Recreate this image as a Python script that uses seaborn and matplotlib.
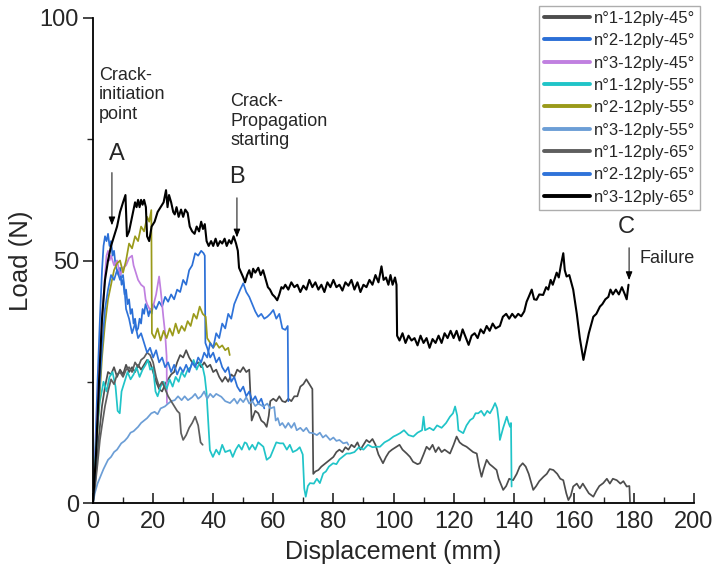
import matplotlib
matplotlib.use("Agg")
import matplotlib.pyplot as plt
import seaborn as sns
from matplotlib.ticker import MultipleLocator

# Data (displacement in mm, load in N)
labels = ["n°1-12ply-45°", "n°2-12ply-45°", "n°3-12ply-45°",
          "n°1-12ply-55°", "n°2-12ply-55°", "n°3-12ply-55°",
          "n°1-12ply-65°", "n°2-12ply-65°", "n°3-12ply-65°"]
colors = ["#4d4d4d", "#2b6fd6", "#c080e0", "#20c4c8", "#9a9a1a",
          "#6c9ed6", "#5e5e5e", "#2f73d9", "#000000"]

n1_45_x = [0, 1, 2, 3, 4, 5, 6, 7, 8, 9, 10, 11, 12, 13, 14, 15, 16, 17, 18, 19, 20, 21, 22, 23, 24, 25, 26, 27, 28, 29,
           30, 31, 32, 33, 34, 35, 36, 37, 38, 39, 40, 41, 42, 43, 44, 45, 46, 47, 48, 49, 50, 51, 52, 52.8, 54, 55, 56,
           57, 57.8, 58.5, 59, 60, 61, 62, 63, 64, 65, 66, 67, 68, 69, 70, 71, 72, 73, 73.3, 74, 75, 76, 77, 78, 79, 80,
           81, 82, 83, 84, 85, 86, 87, 88, 89, 90, 91, 92, 93, 94, 95, 96.5, 97.5, 98.5, 99.5, 101, 102, 103, 104.4,
           105.5, 106.5, 108, 108.8, 110, 111, 112, 113, 114, 115, 116, 117, 118.8, 120, 121, 122, 123, 124.3, 125.5,
           126.5, 127.7, 128.5, 129.3, 130, 131, 132, 133, 134.3, 135, 136.5, 137.5, 138.5, 139.8, 141, 142, 143, 144,
           145, 146.5, 147.5, 148.5, 149.9, 151, 152, 153.2, 154.5, 155.5, 156.5, 157.5, 158.2, 159, 159.8, 161, 162,
           163, 164.3, 165, 166.5, 167.5, 168.5, 169.8, 171, 172, 173, 174.3, 175.5, 176.5, 177.6, 178.5, 178.7]
n1_45_y = [0, 6, 14, 20, 24, 27, 26.5, 28, 26, 27.5, 26.5, 28.5, 27, 28, 27, 28.5, 27.5, 28.5, 29.5, 29, 27, 25, 23.5,
           23, 24.5, 25.5, 26.5, 27, 29, 30.5, 30, 31.5, 30, 29, 28.5, 29, 28, 29, 28, 28.5, 27, 27.5, 26, 25, 26, 25,
           26.5, 26, 27.5, 27, 28, 27, 27.5, 17, 19, 18.5, 17, 16.5, 15.7, 18, 21, 21.5, 21, 22, 21, 20.8, 21.5, 21,
           22, 22, 24, 24.5, 25.5, 24.5, 23.5, 6, 6.5, 6.8, 7.5, 8, 8.5, 9, 9.5, 10.5, 11, 10.5, 11.5, 11, 12, 11.5,
           12.5, 11, 12, 13, 12.5, 13.2, 12, 10, 8.2, 9.5, 10.5, 11, 11.6, 12, 11, 10.2, 9.5, 8.5, 8, 8.2, 10, 11.6,
           11, 12, 10.5, 11.5, 10.5, 11, 10.2, 12, 13.7, 12.5, 12, 11.6, 11, 10.5, 10.2, 7.5, 5.4, 7, 8.9, 8, 7.5,
           6.8, 5, 2.7, 3.5, 5, 4.7, 6, 7.5, 8.2, 7.5, 6, 2.7, 3.5, 4.5, 5.4, 6, 7, 6.8, 6, 5, 4.7, 2, 0.6, 1.5, 3.4,
           4, 3, 4, 2.7, 2, 1.3, 2.5, 3.5, 4.1, 5, 4, 5, 4.7, 4, 4.5, 3.4, 3.5, 0.3]

n2_45_x = [0, 0.8, 1.5, 2.3, 3, 3.5, 4, 4.5, 5, 5.5, 6, 6.5, 7, 7.5, 8, 8.5, 9, 9.5, 10, 10.5, 11, 11.5, 12, 12.5, 13,
           13.5, 14, 14.5, 15, 15.5, 16, 16.5, 17, 17.5, 18, 18.5, 19, 19.5, 20, 21, 22, 23, 24, 25, 26, 27, 28, 29,
           30, 31, 32, 33, 34, 35, 36, 36.8, 37.2, 37.4, 38, 39, 40, 41, 42, 43, 44, 45, 46, 47, 48, 49, 50, 51, 52,
           53, 54, 55, 56, 57]
n2_45_y = [0, 12, 25, 38, 48, 53, 55, 54, 55.5, 53, 54, 51, 52, 49, 48, 47, 48.5, 45, 46, 43, 44, 41, 42, 39, 40, 37,
           38, 35.5, 36, 38, 37, 40, 39, 41, 40, 38.5, 40, 39, 41, 40, 41.5, 40.5, 42.5, 41.5, 43, 42, 44, 43.5, 46,
           45, 48, 49, 51.5, 51, 52, 51.5, 51, 33, 32, 30, 31, 29, 30, 28, 27, 28, 25, 26, 24, 23, 24, 22, 23, 21, 22,
           20.5, 21.5, 19.5]

n3_45_x = [0, 1, 2, 3, 4, 4.5, 5, 5.5, 6, 7, 8, 9, 10, 11, 12, 13, 13.5, 14, 14.5, 15, 16, 17, 17.5, 18, 19, 20, 21,
           22, 22.5, 23, 23.4, 24, 24.5, 24.6]
n3_45_y = [0, 12, 26, 38, 47, 51, 52, 50, 51, 49, 50, 47, 48.5, 49, 50.5, 51, 49, 48, 47, 46, 45, 44.5, 42, 41, 39.8,
           40.5, 43, 46.7, 44, 41, 38.4, 35, 30.2, 20.6]

n1_55_x = [0, 0.7, 1.5, 2.3, 2.8, 3.5, 4.5, 5.5, 6.5, 7.5, 8.2, 8.9, 9.5, 10.5, 11.5, 12.5, 13.5, 14.5, 15.5, 16.5,
           17.5, 18.3, 19, 20, 20.8, 21.5, 22.5, 23.5, 24.5, 25.5, 26.5, 27.5, 28.5, 29.5, 30.5, 31.5, 32.5, 33.5,
           34.5, 35.5, 36.5, 37.2, 37.8, 38.4, 38.9, 39.9, 41, 42, 43, 44, 45.6, 46.5, 47.5, 48.5, 49.5, 50.5, 51.1,
           52, 53, 54, 55, 56.7, 57.8, 59, 60, 61, 62.2, 63.3, 64.5, 65.5, 66.5, 67.8, 68.8, 69.8, 70.3, 70.8, 71.5,
           72.2, 73.5, 74.5, 75.5, 76.6, 77.5, 78.5, 79.9, 81, 82, 83, 84.4, 85.5, 87, 88.5, 90, 91.5, 93, 94.4,
           95.5, 97, 98.5, 100, 101, 102.2, 103.5, 105, 106.6, 108, 109.5, 110, 110.5, 112, 113.3, 114.5, 116, 117.5,
           118.8, 119.8, 120.5, 121.2, 121.6, 123.2, 124.3, 125.5, 126.5, 127.3, 128.2, 129.2, 130.2, 131.2, 132.1,
           133, 133.8, 134.5, 135, 135.4, 136.5, 137.7, 138.3, 138.8, 139.1, 139.3]
n1_55_y = [0, 8, 16, 21, 22.6, 25, 23, 26, 27, 24, 19, 18.5, 23, 25, 27, 25.5, 26.5, 28, 26, 27.5, 28.5, 29.5, 27.5,
           28, 23, 22, 24, 25, 23.5, 25.5, 24, 26, 25, 27, 26, 27.5, 28, 29.5, 27.5, 29, 28, 26, 22.6, 16, 10.9, 9.5,
           11, 10, 12, 10.5, 10.9, 9.5, 11, 12, 11, 12.5, 12.3, 11, 12, 11, 12.5, 11.6, 8.9, 9.5, 11, 12.5, 12.3,
           12.3, 11, 12, 10.5, 10.9, 11.5, 10, 3, 1.3, 3.5, 4.1, 4, 5, 4.1, 6.1, 6.5, 7.5, 8.2, 8, 9, 9.5, 10.2, 10.2,
           10.5, 11.5, 11, 12, 11.5, 11.6, 11.6, 12.5, 13, 13.7, 14, 14.4, 15, 14, 13.7, 14.5, 15, 17.8, 15, 15.5,
           15, 16, 15.5, 16.5, 17.8, 18.5, 19.9, 18, 15, 14.4, 16, 17.1, 17.5, 18.5, 18.5, 19, 18, 19, 18.5, 19.5,
           20.6, 19.5, 17, 13, 15.5, 17.8, 16.5, 15.7, 16.5, 3.4]

n2_55_x = [0, 1, 2, 3, 4, 5, 6, 7, 8, 9, 10, 11, 12, 13, 14, 15, 16, 17, 18, 18.7, 19.4, 19.6, 20.5, 21.5, 22.5, 23.5,
           24.5, 25.5, 26.5, 27.5, 28.5, 29.5, 30.5, 31.5, 32.5, 33.5, 34.5, 35.5, 36.5, 37.5, 38, 39, 40, 41, 42, 43,
           44, 45, 45.5]
n2_55_y = [0, 10, 20, 30, 37, 42, 45, 48, 49.4, 50, 47.5, 50, 53.5, 52.5, 55, 54, 57, 56, 59, 58, 60.4, 35, 34, 36,
           33.5, 35.5, 34, 36, 34.5, 37, 35, 36.5, 35.5, 37.5, 36.5, 39, 38, 40.5, 39, 38.4, 34, 33, 32, 33, 32, 32.5,
           31.5, 32, 30.5]

n3_55_x = [0, 0.6, 1.5, 2.5, 3.5, 5, 6, 7, 8, 9.4, 10.5, 11.5, 12.5, 13.5, 15, 16, 17, 18, 19.4, 20.5, 21.5, 22.5,
           23.9, 25, 26, 27.2, 28.3, 29.5, 30.5, 31.6, 33, 34, 35, 36, 37, 38, 39, 40, 41, 42.7, 44, 45.6, 47, 48, 49,
           50, 51, 52, 53, 54, 55, 56.7, 58, 59, 60.3, 60.8, 61.5, 62.2, 63, 64, 65, 66, 67, 67.8, 69, 70, 71, 72,
           73.3, 74.5, 75.5, 76.5, 77.5, 78.9, 80, 81, 82, 83.3, 84.5, 85]
n3_55_y = [0, 2, 4, 5.5, 7, 8.9, 9.5, 10.5, 11, 12.3, 12.8, 13.5, 14.5, 14.8, 15.7, 16.5, 17, 17.5, 18.5, 18.8, 18.3,
           19.5, 19.9, 20.5, 21, 21.2, 22, 21.2, 22, 21.2, 21.8, 22.5, 21.5, 22, 23, 21.5, 22.5, 21.8, 22.5, 21.9, 21,
           20.6, 21.5, 20.5, 21.5, 20.8, 21.8, 20.5, 21, 20, 20.5, 19.9, 20.5, 19.5, 19.8, 17, 17.5, 16, 16.5, 15.5,
           16.5, 15.5, 16.5, 15, 15.5, 14.8, 15.5, 14.5, 14.4, 14, 14.5, 13.5, 14, 13, 13.5, 12.8, 13, 12.3, 12.5, 12]

n1_65_x = [0, 0.8, 1.5, 2.3, 3, 4, 5, 6, 7, 8, 9, 10, 11, 12, 13, 14, 15, 16, 17, 18, 19, 20, 21, 22, 23, 24, 25, 26,
           27, 28, 28.8, 29.3, 30, 31, 32, 33, 34, 35, 35.8, 36.5]
n1_65_y = [0, 4, 8, 13, 16, 20, 23, 25.5, 24.5, 26.5, 27, 26, 27.5, 28, 27, 29, 28, 29.5, 30, 31, 30.5, 29, 26, 24, 25,
           23.5, 22, 21, 20, 19, 18.5, 14.4, 13, 14, 15.5, 16.5, 17.8, 16, 12.5, 12]

n2_65_x = [0, 1, 2, 3, 4, 5, 6, 7, 8, 9, 10, 10.5, 11, 12, 13, 14, 15, 16, 17, 18, 19, 20, 21, 22, 23, 24, 25, 26, 27,
           28, 29, 30, 31, 32, 33, 34, 35, 36, 37, 38, 39, 40, 41, 42, 43, 44, 45, 46, 47, 48, 49, 50, 51, 52, 53, 54,
           55, 56, 57, 58, 59, 60, 61, 62, 63, 64, 64.8, 65]
n2_65_y = [0, 10, 22, 32, 40, 44, 47, 46, 48, 46, 47, 44, 40, 38, 35, 37, 34, 35, 33, 31, 32, 30, 31.5, 29, 30, 28, 29,
           27, 28.5, 26.5, 28, 27, 28.5, 27, 29, 28, 30, 29, 31, 30, 33, 32, 35, 34, 37, 36, 39, 38, 41, 42.5, 44,
           45.3, 43.5, 42.5, 41, 39.5, 38.4, 39, 38, 38.4, 39, 39.8, 38, 39, 36, 35.7, 36.5, 21]

n3_65_x = [0, 1, 2, 3, 4, 5, 6, 7, 8, 9, 10, 10.8, 11.3, 12, 13, 14, 14.5, 15, 15.5, 16, 16.5, 17, 17.6, 18, 18.7,
           19.5, 20.5, 21.5, 22.5, 23.5, 24.3, 24.8, 25.3, 26, 26.7, 27.2, 27.8, 28.5, 29.3, 30, 30.7, 31.5, 32.2, 33,
           33.8, 34.5, 35.3, 36, 36.6, 37.2, 37.8, 38.5, 39.3, 40, 40.8, 41.5, 42.3, 43, 43.8, 44.5, 45.3, 46, 46.8,
           47.6, 48.2, 48.6, 49.3, 50, 50.6, 51.3, 52, 52.7, 53.3, 54, 55, 55.8, 56.6, 57.5, 58.2, 58.9, 59.7, 60.5,
           61.3, 62, 62.7, 63.3, 64, 65, 66, 67, 68, 69, 70, 71, 72, 73, 74, 75, 76, 77, 78, 79, 80, 81, 82, 83, 84,
           85, 86, 87, 88, 89, 90, 91, 92, 93, 94, 95, 96, 96.7, 97.5, 98.3, 99, 99.7, 100.5, 101, 101.2, 102, 103,
           104, 105, 106, 107, 108, 109, 110, 111, 112, 113, 114, 115, 116, 117, 118, 119, 120, 121, 122, 123, 124,
           125, 126, 127, 128, 129, 130, 131, 132, 133, 134, 135.4, 136.4, 137.5, 138.5, 139.5, 140.5, 141.5, 142.5,
           143.5, 144.3, 145, 146, 146.8, 147.6, 148.5, 149.8, 150.8, 151.5, 152.3, 153, 154.3, 155, 155.7, 156.5,
           157, 157.6, 158.5, 159.8, 161, 162, 163.2, 164, 165, 166.5, 167.5, 168.7, 169.5, 170.5, 171.5, 172.2, 173,
           174, 175, 176, 177, 177.6, 178.2]
n3_65_y = [0, 10, 25, 38, 46, 50, 53, 55, 57, 60, 62, 63.5, 55, 56, 59, 62, 61, 62.5, 61, 62.5, 61.5, 62.5, 61, 55, 54,
           57, 58, 60, 61, 62, 64.5, 61, 63.5, 62, 60, 59.5, 61, 59, 60.5, 59, 60.5, 59.8, 57, 56, 55.5, 57, 56, 58,
           56.5, 57.5, 54, 53, 54, 53, 54.5, 53, 54, 53.5, 54.5, 53, 54.2, 53.5, 55, 53.5, 52, 48.5, 47.5, 46.5, 45.5,
           47, 48, 46.5, 48.3, 47.5, 48.5, 47, 48, 46, 44.5, 44, 43, 42.5, 41.8, 43, 44.5, 44.2, 45, 44, 45.5, 44.5,
           45, 43.5, 44.8, 44, 46, 44.5, 45.5, 44, 45, 43.5, 45.5, 44.5, 46, 44.5, 45, 43.8, 45.5, 44.8, 46, 44, 45.5,
           43.5, 45, 44.5, 46, 45, 47, 45.5, 48.8, 46, 46.5, 45, 47, 45, 46.5, 45, 34.5, 33.5, 35, 33, 34.5, 33.5, 34,
           32.5, 34.5, 33, 34, 32, 33.8, 33, 34.5, 33, 35, 34, 35.5, 34, 35.5, 33.5, 35.8, 34.2, 32.6, 34.5, 35, 34,
           35.8, 35, 36.5, 35.5, 37, 36, 36.5, 38.4, 39, 38, 39, 38.2, 39, 38.5, 39.5, 41.5, 42.5, 44, 42, 41.9, 43,
           42.9, 44.5, 44, 46, 45, 47.5, 46.5, 49, 51.5, 48, 46.7, 47, 44, 39, 34, 29.5, 32, 35, 38.4, 39, 40.5, 41,
           42, 42.5, 44, 43, 44, 43, 44.5, 43, 42, 45]

series_x = [n1_45_x, n2_45_x, n3_45_x, n1_55_x, n2_55_x, n3_55_x, n1_65_x, n2_65_x, n3_65_x]
series_y = [n1_45_y, n2_45_y, n3_45_y, n1_55_y, n2_55_y, n3_55_y, n1_65_y, n2_65_y, n3_65_y]

sns.set_style("white")
plt.rcParams["font.family"] = ["Liberation Sans", "DejaVu Sans"]

fig = plt.figure(figsize=(7.13, 5.81), dpi=100)
ax = fig.add_axes([93 / 713, 1 - 503 / 581, (694 - 93) / 713, (503 - 18) / 581])

for xs, ys, lab, col in zip(series_x, series_y, labels, colors):
    sns.lineplot(x=xs, y=ys, sort=False, estimator=None, color=col, label=lab,
                 linewidth=1.5 if col == "#000000" else 1.25, ax=ax)

ax.set_xlim(0, 200)
ax.set_ylim(0, 100)
sns.despine(ax=ax)
for s in ["left", "bottom"]:
    ax.spines[s].set_linewidth(1.3)
    ax.spines[s].set_color("black")

ax.xaxis.set_major_locator(MultipleLocator(20))
ax.xaxis.set_minor_locator(MultipleLocator(10))
ax.yaxis.set_major_locator(MultipleLocator(50))
ax.yaxis.set_minor_locator(MultipleLocator(25))
ax.tick_params(axis="x", which="major", direction="in", length=7, width=1.2, labelsize=17, pad=6, bottom=True)
ax.tick_params(axis="x", which="minor", direction="in", length=4, width=1.0, bottom=True)
ax.tick_params(axis="y", which="major", direction="out", length=7, width=1.2, labelsize=17, pad=3, left=True)
ax.tick_params(axis="y", which="minor", direction="out", length=4, width=1.0, left=True)

ax.set_xlabel("Displacement (mm)", fontsize=18, labelpad=5)
ax.set_ylabel("Load (N)", fontsize=18.5)
ax.yaxis.set_label_coords(-0.1, 0.5)

# annotations
ax.text(2, 90, "Crack-\ninitiation\npoint", fontsize=13, va="top", ha="left", linespacing=1.2)
ax.text(8, 72, "A", fontsize=17, ha="center", va="center")
ax.annotate("", xy=(6.3, 56.7), xytext=(6.3, 68.7),
            arrowprops=dict(arrowstyle="-|>,head_length=0.5,head_width=0.2", color="black", lw=0.7))
ax.text(45.6, 84.5, "Crack-\nPropagation\nstarting", fontsize=13, va="top", ha="left", linespacing=1.2)
ax.text(47.9, 67.2, "B", fontsize=17, ha="center", va="center")
ax.annotate("", xy=(47.9, 54.2), xytext=(47.9, 63.5),
            arrowprops=dict(arrowstyle="-|>,head_length=0.5,head_width=0.2", color="black", lw=0.7))
ax.text(177.4, 56.9, "C", fontsize=17, ha="center", va="center")
ax.annotate("", xy=(178.4, 45.4), xytext=(178.4, 53.2),
            arrowprops=dict(arrowstyle="-|>,head_length=0.5,head_width=0.2", color="black", lw=0.7))
ax.text(182, 50.5, "Failure", fontsize=13, ha="left", va="center")

leg = ax.legend(loc="upper right", bbox_to_anchor=(700 / 713, 1 - 6 / 581), bbox_transform=fig.transFigure,
                fontsize=12, frameon=True, fancybox=False, edgecolor="#999999", handlelength=2.8,
                handletextpad=0.2, labelspacing=0.44, borderpad=0.3, borderaxespad=0)
leg.get_frame().set_linewidth(1.0)
for h in leg.legend_handles:
    h.set_linewidth(2.8)

fig.savefig("out.png", dpi=100)
